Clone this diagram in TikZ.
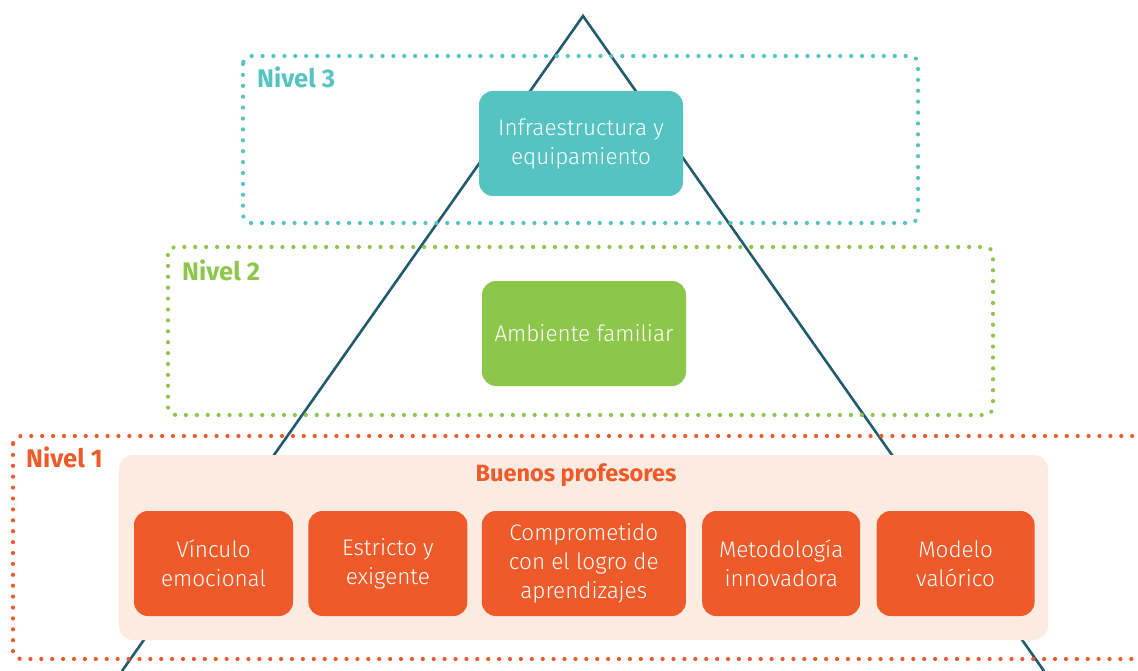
\documentclass[tikz,border=0pt]{standalone}
\usepackage{fontspec}
\setmainfont{Fira Sans}
\newfontfamily\lightfont{Fira Sans Light}
\usetikzlibrary{positioning}
\definecolor{nivelteal}{HTML}{54C3C1}
\definecolor{nivelgreen}{HTML}{8CC64B}
\definecolor{nivelorange}{HTML}{EF5A2A}
\definecolor{peach}{HTML}{FCEBE1}
\definecolor{pyramid}{HTML}{235B6E}

\begin{document}
\begin{tikzpicture}
[x=1pt, y=-1pt, node distance=15pt,
 frame/.style={line width=4.2pt, line cap=round, dash pattern=on 0pt off 10.9pt, rounded corners=8pt},
 box/.style={rounded corners=14pt, text=white, align=center, inner sep=0, minimum width=#1, minimum height=105pt, font=\lightfont\fontsize{22.5}{29}\selectfont},
 box/.default=159pt,
 level/.style={anchor=west, inner sep=0, font=\fontsize{25.5}{30}\selectfont\bfseries}]
\useasboundingbox (0,0) rectangle (1138,671);
\coordinate (apex) at (583,16);
\coordinate (baseL) at (122,671);
\coordinate (baseR) at (1044,671);
\draw [pyramid, line width=2.6pt] (baseL) -- (apex) -- (baseR);
\draw [frame, nivelteal] (243,56) rectangle (918,223);
\draw [frame, nivelgreen] (168,247) rectangle (993,415);
\draw [frame, nivelorange] (13,436) rectangle (1160,659);
\node (n3) [level, nivelteal] at (257,77) {Nivel 3};
\node (n2) [level, nivelgreen] at (182,270) {Nivel 2};
\node (n1) [level, nivelorange] at (26,457) {Nivel 1};
\node (infra) [box=204pt, fill=nivelteal] at (581,143.5) {Infraestructura y\\equipamiento};
\node (ambiente) [box=204pt, fill=nivelgreen] at (584,333.5) {Ambiente familiar};
\node (buenos) [fill=peach, rounded corners=14pt, minimum width=929pt, minimum height=185pt] at (583.5,547.5) {};
\node (titulo) [nivelorange, inner sep=0, font=\fontsize{23.5}{28}\selectfont\bfseries] at (576,475) {Buenos profesores};
\node (vinculo) [box, fill=nivelorange] at (213.5,563.5) {Vínculo\\emocional};
\node (estricto) [box, fill=nivelorange, right=of vinculo] {Estricto y\\exigente};
\node (compromiso) [box=204pt, fill=nivelorange, right=14pt of estricto] {Comprometido\\con el logro de\\aprendizajes};
\node (metodo) [box=158pt, fill=nivelorange, right=16pt of compromiso] {Metodología\\innovadora};
\node (modelo) [box=158pt, fill=nivelorange, right=16pt of metodo] {Modelo\\valórico};
\end{tikzpicture}
\end{document}
